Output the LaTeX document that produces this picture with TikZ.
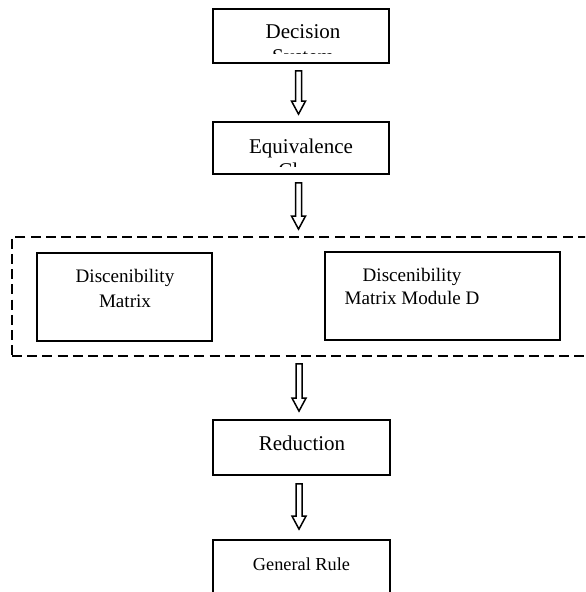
\documentclass[tikz,border=0pt]{standalone}
\usepackage{fontspec}
\setmainfont{Liberation Serif}
\usetikzlibrary{calc}
\newcommand{\harrow}[4]{%
\draw[arr] let \p1=($(#1.south)+(-2.5,#3)$), \p2=($(#2.north)+(-2.5,-#4)$) in
 (\x2-1.5pt,\y1) -- (\x2+1.5pt,\y1) -- (\x2+1.5pt,\y2+6.5pt) -- (\x2+3.5pt,\y2+6.5pt) -- (\x2,\y2) -- (\x2-3.5pt,\y2+6.5pt) -- (\x2-1.5pt,\y2+6.5pt) -- cycle;}
\begin{document}
\begin{tikzpicture}[x=0.5pt,y=-0.5pt,
  box/.style={draw,line width=0.9pt,inner sep=0pt},
  grpbox/.style={draw,dashed,dash pattern=on 5pt off 2.6pt,line width=0.9pt,inner sep=0pt},
  arr/.style={draw,line width=0.75pt,fill=white},
  big/.style={anchor=base,inner sep=0pt,font=\fontsize{10.5}{12}\selectfont},
  mid/.style={anchor=base,inner sep=0pt,font=\fontsize{9.55}{11}\selectfont},
  small/.style={anchor=base,inner sep=0pt,font=\fontsize{9.15}{11}\selectfont}]
\useasboundingbox (0,0) rectangle (585,592);
\clip (0,0) rectangle (585,592);
\node[box,minimum width=88pt,minimum height=27pt] (dec) at (301,36) {};
\node[box,minimum width=88pt,minimum height=26pt] (eq) at (301,148) {};
\node[grpbox,minimum width=289pt,minimum height=59.5pt] (grp) at (301,296.5) {};
\node[box,minimum width=87.5pt,minimum height=44pt] (dm1) at (124.5,297) {};
\node[box,minimum width=117.5pt,minimum height=44pt] (dm2) at (442.5,296) {};
\node[box,minimum width=88.5pt,minimum height=27.5pt] (red) at (301.5,447.5) {};
\node[box,minimum width=88.5pt,minimum height=30pt] (gen) at (301.5,570) {};
\begin{scope}
\clip (dec.north west) rectangle ($(dec.south east)+(0,-10)$);
\node[big] (t1) at (303,39) {Decision};
\node[big] (t2) at (303,64) {System};
\end{scope}
\begin{scope}
\clip (eq.north west) rectangle ($(eq.south east)+(0,-8)$);
\node[big] (t3) at (301,154) {Equivalence};
\node[big] (t4) at (301,178) {Class};
\end{scope}
\node[mid] (t5) at (125,283) {Discenibility};
\node[mid] (t6) at (125,307) {Matrix};
\node[mid] (t7) at (412,282) {Discenibility};
\node[mid] (t8) at (412,305) {Matrix Module D};
\node[big] (t9) at (302,450) {Reduction};
\node[small] (t10) at (301.5,570) {General Rule};
\harrow{dec}{eq}{7}{7}
\harrow{eq}{grp}{8}{7}
\harrow{grp}{red}{7}{8}
\harrow{red}{gen}{8}{10}
\end{tikzpicture}
\end{document}
